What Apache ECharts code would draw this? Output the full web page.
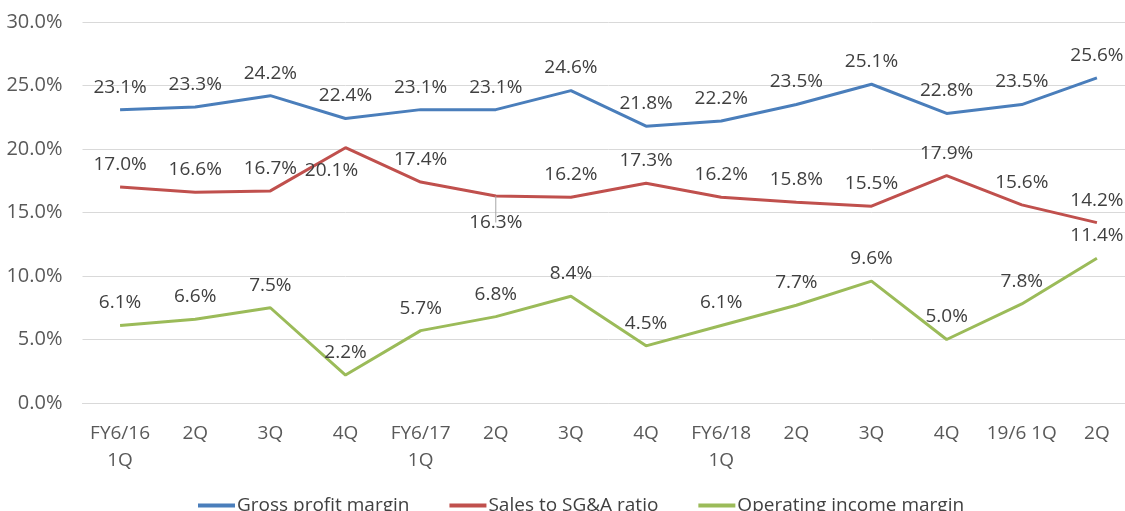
<!DOCTYPE html>
<html><head><meta charset="utf-8">
<script src="https://cdn.jsdelivr.net/npm/echarts@6/dist/echarts.min.js"></script>
<style>html,body{margin:0;padding:0;background:#fff;overflow:hidden}#c{width:1140px;height:511px}</style>
</head><body><div id="c"></div>
<script>
var categories = ['FY6/16\n1Q','2Q','3Q','4Q','FY6/17\n1Q','2Q','3Q','4Q','FY6/18\n1Q','2Q','3Q','4Q','19/6 1Q','2Q'];
var grossMargin = [23.1,23.3,24.2,22.4,23.1,23.1,24.6,21.8,22.2,23.5,25.1,22.8,23.5,25.6];
var sgaRatio = [17.0,16.6,16.7,20.1,17.4,16.3,16.2,17.3,16.2,15.8,15.5,17.9,15.6,14.2];
var opMargin = [6.1,6.6,7.5,2.2,5.7,6.8,8.4,4.5,6.1,7.7,9.6,5.0,7.8,11.4];
var yTicks = [0,5,10,15,20,25,30];

var FONT = 'Open Sans';
var labelBase = {show:true, position:'top', distance:13, color:'#404040', fontFamily:FONT, fontSize:19,
  formatter:function(p){return p.value.toFixed(1)+'%';}};

function mk(name, data, color, below){
  return {
    name:name, type:'line', symbol:'circle', symbolSize:0, showSymbol:true,
    lineStyle:{width:3, color:color}, itemStyle:{color:color},
    label:labelBase,
    labelLine:{show:false, lineStyle:{color:'#a6a6a6', width:1}},
    data:data.map(function(v,i){
      var d={value:v};
      if(below && below[i]){
        d.label={position:'bottom', distance:below[i][0], offset:below[i][1]};
        if(below[i][2]){ d.labelLine={show:true, length2:0, lineStyle:{color:'#a6a6a6', width:1}}; }
      }
      return d;
    })
  };
}

var chart = echarts.init(document.getElementById('c'));
chart.setOption({
  animation:false,
  textStyle:{fontFamily:FONT},
  grid:{left:82.5, width:1052, top:22, height:381, containLabel:false},
  legend:{
    top:491, left:193, itemGap:40, itemWidth:37, itemHeight:4,
    icon:'rect',
    textStyle:{color:'#404040', fontSize:19, fontFamily:FONT, padding:[0,0,0,-3]},
    data:['Gross profit margin','Sales to SG&A ratio','Operating income margin']
  },
  xAxis:{
    type:'category', data:categories, boundaryGap:true,
    axisLine:{lineStyle:{color:'#d9d9d9', width:1}},
    axisTick:{show:false},
    axisLabel:{color:'#595959', fontSize:19, fontFamily:FONT, margin:17, lineHeight:27, interval:0}
  },
  yAxis:{
    type:'value', min:yTicks[0], max:yTicks[yTicks.length-1], interval:5,
    axisLine:{show:false}, axisTick:{show:false},
    splitLine:{lineStyle:{color:'#d9d9d9', width:1}},
    axisLabel:{color:'#595959', fontSize:20, fontFamily:FONT, margin:20,
      formatter:function(v){return v.toFixed(1)+'%';}}
  },
  series:[
    mk('Gross profit margin', grossMargin, '#4A7EBB'),
    mk('Sales to SG&A ratio', sgaRatio, '#C0504D', {3:[13,[-14,0]], 5:[17,[0,0],true]}),
    mk('Operating income margin', opMargin, '#9BBB59')
  ]
});
</script></body></html>
